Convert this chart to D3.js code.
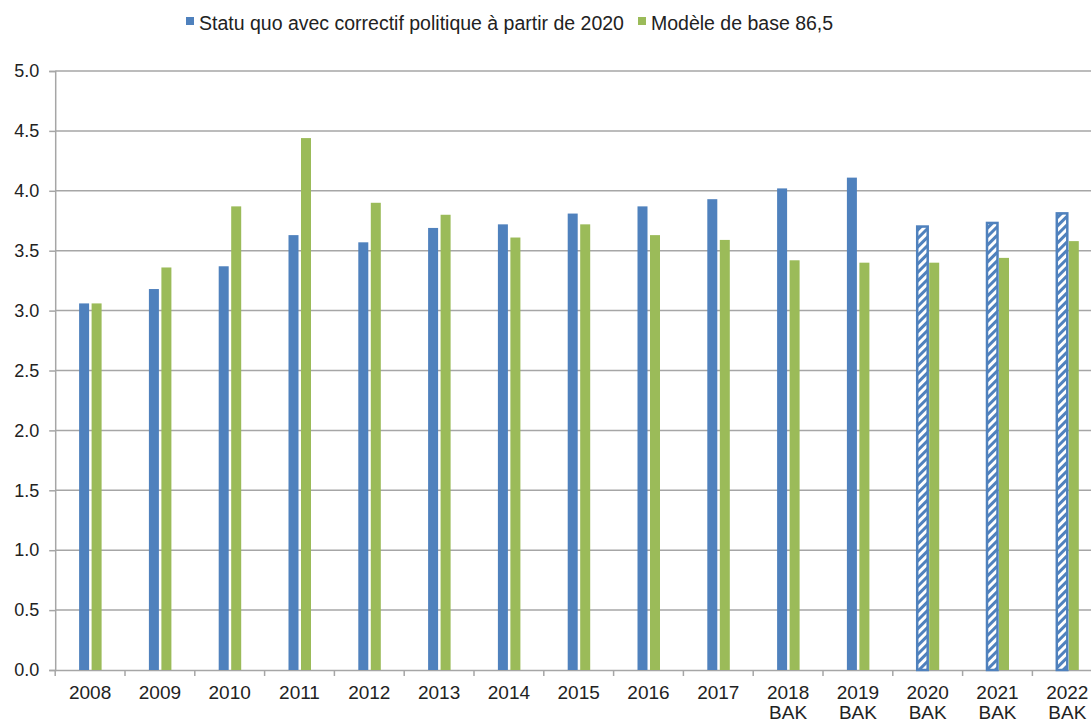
<!DOCTYPE html>
<html><head><meta charset="utf-8">
<script src="https://cdn.jsdelivr.net/npm/d3@7/dist/d3.min.js"></script>
<style>body{margin:0;background:#fff;}svg{display:block;font-family:"Liberation Sans",Arial,sans-serif;}</style>
</head><body>
<svg id="c" width="1091" height="724"></svg>
<script>
const years = ["2008","2009","2010","2011","2012","2013","2014","2015","2016","2017","2018","2019","2020","2021","2022"];
const subLabels = ["","","","","","","","","","","BAK","BAK","BAK","BAK","BAK"];
const statuQuo = [3.06,3.18,3.37,3.63,3.57,3.69,3.72,3.81,3.87,3.93,4.02,4.11,3.71,3.74,3.82];
const modeleBase = [3.06,3.36,3.87,4.44,3.90,3.80,3.61,3.72,3.63,3.59,3.42,3.40,3.40,3.44,3.58];
const hatched = [false,false,false,false,false,false,false,false,false,false,false,false,true,true,true];
const yTicks = [0,0.5,1,1.5,2,2.5,3,3.5,4,4.5,5];
const seriesNames = ["Statu quo avec correctif politique à partir de 2020","Modèle de base 86,5"];
const colors = ["#4f81bd","#9bbb59"];

const svg = d3.select("#c");
const left = 55.2, band = 69.8;
const x = d3.scaleBand().domain(years).range([left, left + band*years.length]).padding(0);
const y = d3.scaleLinear().domain([0,5]).range([670,71]);

const defs = svg.append("defs");
const pat = defs.append("pattern").attr("id","hatch").attr("patternUnits","userSpaceOnUse")
  .attr("width",6).attr("height",6).attr("patternTransform","rotate(45)");
pat.append("rect").attr("width",6).attr("height",6).attr("fill","#fff");
pat.append("rect").attr("x",0).attr("width",3).attr("height",6).attr("fill",colors[0]);

// gridlines
svg.append("g").selectAll("line").data(yTicks.filter(d=>d>0)).join("line")
  .attr("x1",left).attr("x2",1091).attr("y1",d=>y(d)).attr("y2",d=>y(d))
  .attr("stroke","#a6a6a6").attr("stroke-width",1.5);

// y axis
const yAxis = svg.append("g").attr("transform",`translate(${left},0)`)
  .call(d3.axisLeft(y).tickValues(yTicks).tickFormat(d3.format(".1f")).tickSize(6).tickPadding(10));
yAxis.select(".domain").attr("stroke","#a6a6a6").attr("stroke-width",1.5);
yAxis.selectAll(".tick line").attr("stroke","#a6a6a6").attr("stroke-width",1.5);
yAxis.selectAll("text").attr("font-size",18).attr("fill","#222").attr("font-family","Liberation Sans, Arial, sans-serif");

// x axis
const xAxis = svg.append("g").attr("transform","translate(0,670)")
  .call(d3.axisBottom(x).tickSize(0).tickFormat(""));
xAxis.select(".domain").attr("stroke","#a6a6a6").attr("stroke-width",1.5);
svg.append("g").selectAll("line").data(years).join("line")
  .attr("x1",d=>x(d)).attr("x2",d=>x(d)).attr("y1",670).attr("y2",676)
  .attr("stroke","#a6a6a6").attr("stroke-width",1.5);
const lbl = svg.append("g").selectAll("text").data(years).join("text")
  .attr("x",d=>x(d)+x.bandwidth()/2).attr("text-anchor","middle")
  .attr("font-size",19).attr("fill","#222");
lbl.append("tspan").attr("x",d=>x(d)+x.bandwidth()/2).attr("y",699).text(d=>d);
lbl.append("tspan").attr("x",d=>x(d)+x.bandwidth()/2).attr("y",719).text((d,i)=>subLabels[i]);

// bars
const bw = 10;
const c = d => x(d)+x.bandwidth()/2;
svg.append("g").selectAll("rect").data(years).join("rect")
  .attr("x",(d,i)=> hatched[i] ? c(d)-bw-1+0.5 : c(d)-bw-1)
  .attr("width",(d,i)=> hatched[i] ? bw+0.5 : bw)
  .attr("y",(d,i)=>y(statuQuo[i]) + (hatched[i]?1:0))
  .attr("height",(d,i)=>y(0)-y(statuQuo[i]) - (hatched[i]?1:0))
  .attr("fill",(d,i)=>hatched[i]?"url(#hatch)":colors[0])
  .attr("stroke",(d,i)=>hatched[i]?colors[0]:"none")
  .attr("stroke-width",2.5);
svg.append("g").selectAll("rect").data(years).join("rect")
  .attr("x",d=>c(d)+1.5).attr("width",bw)
  .attr("y",(d,i)=>y(modeleBase[i])).attr("height",(d,i)=>y(0)-y(modeleBase[i]))
  .attr("fill",colors[1]);

// legend
const lg = svg.append("g");
const lx = [186, 638];
seriesNames.forEach((n,i)=>{
  lg.append("rect").attr("x",lx[i]).attr("y",17).attr("width",8).attr("height",8).attr("fill",colors[i]);
  lg.append("text").attr("x",lx[i]+13).attr("y",30).attr("font-size",19.5).attr("fill","#222").text(n);
});
</script>
</body></html>
